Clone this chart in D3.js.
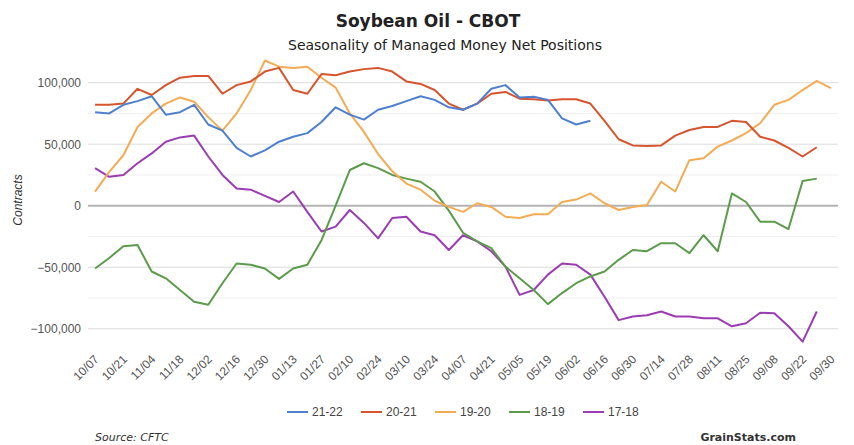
<!DOCTYPE html>
<html>
<head>
<meta charset="utf-8">
<script src="https://cdn.jsdelivr.net/npm/d3@7"></script>
<style>
  html, body { margin: 0; padding: 0; background: #fff; }
  svg { display: block; }
</style>
</head>
<body>
<div id="chart"></div>
<script>
// ---- Data (thousands of contracts) ----
const weeks = ["10/07","10/14","10/21","10/28","11/04","11/11","11/18","11/25","12/02","12/09",
  "12/16","12/23","12/30","01/06","01/13","01/20","01/27","02/03","02/10","02/17",
  "02/24","03/03","03/10","03/17","03/24","03/31","04/07","04/14","04/21","04/28",
  "05/05","05/12","05/19","05/26","06/02","06/09","06/16","06/23","06/30","07/07",
  "07/14","07/21","07/28","08/04","08/11","08/18","08/25","09/01","09/08","09/15",
  "09/22","09/29","09/30"];
const tickLabels = ["10/07","10/21","11/04","11/18","12/02","12/16","12/30","01/13","01/27","02/10",
  "02/24","03/10","03/24","04/07","04/21","05/05","05/19","06/02","06/16","06/30",
  "07/14","07/28","08/11","08/25","09/08","09/22","09/30"];
const seriesNames = ["21-22","20-21","19-20","18-19","17-18"];
const seriesColors = ["#4f7fcf","#d6552f","#f3ac55","#5c9b4b","#9a3db2"];

const s2122 = [76,75,82,85,89,74,76,82,66,61,47,40,45,52,56,59,68,80,74,70,
  78,81,85,89,86,80,78,83,95,98,88,88.5,86,71,66,69];
const s2021 = [82,82,83,95,90,98,104,105.5,105.5,91,98,101,109,112,94,91,107,106,109,111,
  112,109,101,99,94,83,78,83,91,92.5,87,86.5,85.5,86.5,86.5,83,69,54,49,48.5,
  49,57,61.5,64,64,69,68,56,53,47,40,47.5];
const s1920 = [11.5,27.5,41,64,75,83,88,84.5,72,61,75,94,118,113,112,113,104,96,75,60,
  42,28,18,13,4,-1,-5,2,-1,-9,-10,-7,-7,3,5,10,2,-3.5,-1,0.5,
  19.5,11.5,37,38.5,48,53,59,67,82,86,94,101.5,95.5];
const s1819 = [-51,-42.5,-33,-32,-53.5,-59,-68.5,-78,-80.5,-63,-47,-48,-51,-59.5,-51,-48,-28,0,29,34.5,
  30.5,25,22,19.5,11.5,-4,-22,-29,-34.5,-49.5,-59,-68.5,-80,-71,-63,-57.5,-53.5,-44,-36,-37,
  -30.5,-30.5,-38.5,-24,-37,10,3,-13,-13,-19,20,22];
const s1718 = [30.5,23.5,25,34.5,42.5,52,55.5,57,40,25,14,13,8,3,11.5,-5,-21,-17,-3.5,-14,
  -26.5,-10,-9,-21,-24,-36,-24,-29,-37,-49.5,-72.5,-68.5,-56,-47,-48,-56,-74,-93,-90,-89,
  -86,-90,-90,-91.5,-91.5,-98,-95.5,-87,-87.5,-98,-110.5,-86];
const yTicks = [-100000,-75000,-50000,-25000,0,25000,50000,75000,100000];

const seriesValues = [s2122, s2021, s1920, s1819, s1718];

// ---- Layout ----
const W = 854, H = 445;
const plot = {left: 88, right: 838};

const svg = d3.select("#chart").append("svg").attr("width", W).attr("height", H);

const x = d3.scalePoint().domain(weeks).range([plot.left, plot.right]).padding(0.5);
const y = d3.scaleLinear().domain([-125000, 125000]).range([359.5, 51.9]);

// Gridlines
svg.append("g").selectAll("line").data(yTicks).join("line")
  .attr("x1", plot.left).attr("x2", plot.right)
  .attr("y1", d => y(d)).attr("y2", d => y(d))
  .attr("stroke", d => d === 0 ? "#b3b3b3" : (d % 50000 === 0 ? "#dcdcdc" : "#efefef"))
  .attr("stroke-width", d => d === 0 ? 2 : 1);

// Y axis labels
const yAxis = d3.axisLeft(y).tickValues(yTicks.filter(d => d % 50000 === 0))
  .tickSize(0).tickPadding(0).tickFormat(d3.format(","));
const ya = svg.append("g").attr("transform", "translate(81,0)").call(yAxis);
ya.select(".domain").remove();
ya.selectAll("text").attr("font-family", "Arial, 'Liberation Sans', sans-serif")
  .attr("font-size", 12).attr("fill", "#555");

// X axis labels
const xAxis = d3.axisBottom(x).tickValues(weeks.filter(w => tickLabels.includes(w)))
  .tickSize(0).tickPadding(0);
const xa = svg.append("g").attr("transform", "translate(0,352)").call(xAxis);
xa.select(".domain").remove();
xa.selectAll("text")
  .attr("font-family", "Arial, 'Liberation Sans', sans-serif")
  .attr("font-size", 12).attr("fill", "#555")
  .attr("text-anchor", "end")
  .attr("dy", null).attr("y", 0)
  .attr("transform", "translate(4,8) rotate(-45)");

// Y axis title
svg.append("text")
  .attr("transform", "translate(22,200) rotate(-90)")
  .attr("text-anchor", "middle")
  .attr("font-family", "Arial, 'Liberation Sans', sans-serif")
  .attr("font-size", 12).attr("font-style", "italic").attr("fill", "#333")
  .text("Contracts");

// Lines
const line = d3.line().x((d, i) => x(weeks[i])).y(d => y(d * 1000));
const order = [4, 3, 2, 1, 0];
svg.append("g").selectAll("path").data(order).join("path")
  .attr("d", i => line(seriesValues[i]))
  .attr("fill", "none")
  .attr("stroke", i => seriesColors[i])
  .attr("stroke-width", 2)
  .attr("stroke-linejoin", "round");

// Titles
svg.append("text").attr("x", 428).attr("y", 27).attr("text-anchor", "middle")
  .attr("font-family", "'DejaVu Sans', Verdana, sans-serif").attr("font-weight", "bold")
  .attr("font-size", 17).attr("fill", "#222").text("Soybean Oil - CBOT");
svg.append("text").attr("x", 445).attr("y", 50).attr("text-anchor", "middle")
  .attr("font-family", "'DejaVu Sans', Verdana, sans-serif")
  .attr("font-size", 14).attr("fill", "#222").text("Seasonality of Managed Money Net Positions");

// Legend
const leg = svg.append("g");
seriesNames.forEach((name, i) => {
  const lx = 287 + i * 74;
  leg.append("line").attr("x1", lx).attr("x2", lx + 21).attr("y1", 412).attr("y2", 412)
    .attr("stroke", seriesColors[i]).attr("stroke-width", 2);
  leg.append("text").attr("x", lx + 25).attr("y", 416)
    .attr("font-family", "Arial, 'Liberation Sans', sans-serif")
    .attr("font-size", 12).attr("fill", "#444").text(name);
});

// Footer
svg.append("text").attr("x", 95).attr("y", 441)
  .attr("font-family", "'DejaVu Sans', Verdana, sans-serif").attr("font-style", "italic")
  .attr("font-size", 11).attr("fill", "#333").text("Source: CFTC");
svg.append("text").attr("x", 796).attr("y", 441).attr("text-anchor", "end")
  .attr("font-family", "'DejaVu Sans', Verdana, sans-serif").attr("font-weight", "bold")
  .attr("font-size", 11).attr("fill", "#333").text("GrainStats.com");
</script>
</body>
</html>
